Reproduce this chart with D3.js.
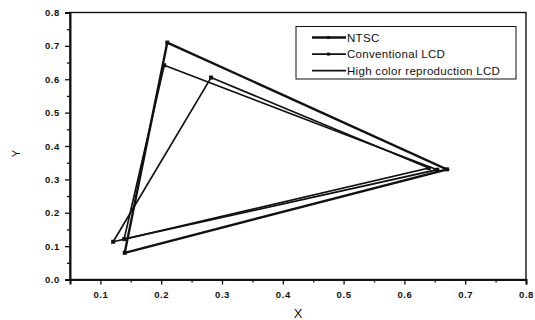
<!DOCTYPE html>
<html><head><meta charset="utf-8">
<script src="https://cdn.jsdelivr.net/npm/d3@7/dist/d3.min.js"></script>
<style>body{margin:0;background:#fff}svg{display:block}text{font-family:"Liberation Sans",Arial,sans-serif;fill:#111}</style>
</head><body><svg id="c" width="535" height="320"></svg>
<script>
const seriesNames = ["NTSC", "Conventional LCD", "High color reproduction LCD"];
const ntscX = [0.21, 0.67, 0.14, 0.21];
const ntscY = [0.71, 0.33, 0.08, 0.71];
const convX = [0.282, 0.64, 0.121, 0.282];
const convY = [0.605, 0.334, 0.113, 0.605];
const highX = [0.205, 0.654, 0.139, 0.205];
const highY = [0.642, 0.329, 0.121, 0.642];
const xTicks = [0.1, 0.2, 0.3, 0.4, 0.5, 0.6, 0.7, 0.8];
const yTicks = [0.0, 0.1, 0.2, 0.3, 0.4, 0.5, 0.6, 0.7, 0.8];
const xMinor = [0.05, 0.15, 0.25, 0.35, 0.45, 0.55, 0.65, 0.75];
const yMinor = [0.05, 0.15, 0.25, 0.35, 0.45, 0.55, 0.65, 0.75];

const svg = d3.select("#c");
const L = 70, R = 526, T = 12.5, B = 279.5;
const x = d3.scaleLinear().domain([0.05, 0.8]).range([L, R]);
const y = d3.scaleLinear().domain([0, 0.8]).range([B, T]);

// frame
svg.append("rect").attr("x", L).attr("y", T).attr("width", R - L).attr("height", B - T)
  .attr("fill", "none").attr("stroke", "#111").attr("stroke-width", 1.4);

const xAxis = d3.axisBottom(x).tickValues(xTicks).tickFormat(d3.format(".1f")).tickSize(5).tickPadding(7);
svg.append("g").attr("transform", `translate(0,${B})`).call(xAxis);
const xm = d3.axisBottom(x).tickValues(xMinor).tickFormat("").tickSize(3);
svg.append("g").attr("transform", `translate(0,${B})`).call(xm).select(".domain").remove();
const yAxis = d3.axisLeft(y).tickValues(yTicks).tickFormat(d3.format(".1f")).tickSize(5).tickPadding(5);
svg.append("g").attr("transform", `translate(${L},0)`).call(yAxis);
const ym = d3.axisLeft(y).tickValues(yMinor).tickFormat("").tickSize(3);
svg.append("g").attr("transform", `translate(${L},0)`).call(ym).select(".domain").remove();
svg.selectAll(".domain").attr("stroke", "#111").attr("stroke-width", 2);
svg.selectAll(".tick line").attr("stroke", "#111").attr("stroke-width", 1.3);
svg.selectAll(".tick text").attr("font-size", 9.5).attr("font-weight", "bold").attr("letter-spacing", 0.6)
  .attr("font-family", "'Liberation Sans',Arial,sans-serif").attr("fill", "#111");

svg.append("text").attr("x", 298).attr("y", 318).attr("text-anchor", "middle")
  .attr("font-size", 13).text("X");
svg.append("text").attr("transform", `translate(19.5,153.5) rotate(-90)`).attr("text-anchor", "middle")
  .attr("font-size", 11).text("Y");

const series = [
  {name: seriesNames[0], xs: ntscX, ys: ntscY, w: 2.4},
  {name: seriesNames[1], xs: convX, ys: convY, w: 1.7},
  {name: seriesNames[2], xs: highX, ys: highY, w: 1.7}
];
const line = d3.line().x(d => x(d[0])).y(d => y(d[1]));
series.forEach(s => {
  const pts = s.xs.map((v, i) => [v, s.ys[i]]);
  svg.append("path").attr("d", line(pts)).attr("fill", "none")
    .attr("stroke", "#111").attr("stroke-width", s.w).attr("stroke-linejoin", "miter");
  svg.selectAll(null).data(pts.slice(0, 3)).enter().append("rect")
    .attr("x", d => x(d[0]) - 2).attr("y", d => y(d[1]) - 2)
    .attr("width", 4).attr("height", 4).attr("fill", "#111");
});

// legend
const lg = svg.append("g");
lg.append("rect").attr("x", 296).attr("y", 26.5).attr("width", 220).attr("height", 52.5)
  .attr("fill", "#fff").attr("stroke", "#111").attr("stroke-width", 1);
series.forEach((s, i) => {
  const yy = 37.5 + i * 16.6;
  lg.append("line").attr("x1", 312).attr("x2", 346).attr("y1", yy).attr("y2", yy)
    .attr("stroke", "#111").attr("stroke-width", s.w);
  if (i < 2) lg.append("rect").attr("x", 327).attr("y", yy - 1.5).attr("width", 3).attr("height", 3).attr("fill", "#111");
  lg.append("text").attr("x", 347).attr("y", yy + 4).attr("font-size", 11.5).attr("letter-spacing", 0.3).text(s.name);
});
</script></body></html>
